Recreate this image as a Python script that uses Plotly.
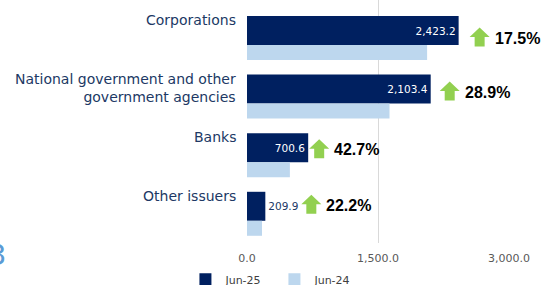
import plotly.graph_objects as go

categories = ["Corporations", "National government and other<br>government agencies", "Banks", "Other issuers"]
jun25 = [2423.2, 2103.4, 700.6, 209.9]
jun24 = [2062.3, 1631.8, 491.0, 171.8]
growth = ["17.5%", "28.9%", "42.7%", "22.2%"]
series_names = ["Jun-25", "Jun-24"]
tick_vals = [0, 1500, 3000]

NAVY = "#002060"
LIGHT = "#BDD7EE"
LABEL = "#203864"
GREEN = "#92D050"
FONT = "DejaVu Sans"

# layout-only pixel tweaks (per category)
arrow_dx = [21, 19, 11, 46]
arrow_dy = [6.5, 2, 1, -2]   # positive = down

pos = list(range(len(categories)))
DARK_W = 0.495
LIGHT_W = 0.256

fig = go.Figure()
fig.add_trace(go.Bar(
    y=pos, x=jun25, orientation="h", name=series_names[0],
    marker=dict(color=NAVY, line=dict(width=0)), offset=0, width=DARK_W,
    texttemplate="%{x:,.1f}", textposition="auto", insidetextanchor="end",
    insidetextfont=dict(color="white", size=10.5, family=FONT),
    outsidetextfont=dict(color=LABEL, size=10.5, family=FONT),
    cliponaxis=False,
))
fig.add_trace(go.Bar(
    y=pos, x=jun24, orientation="h", name=series_names[1],
    marker=dict(color=LIGHT, line=dict(width=0)), offset=DARK_W, width=LIGHT_W,
    hoverinfo="x",
))

annotations = []
shapes = []
for i, cat in enumerate(categories):
    annotations.append(dict(
        xref="paper", x=0, xshift=-9, xanchor="right", align="right",
        yref="y", y=pos[i], yanchor="top", yshift=6,
        text=cat, showarrow=False,
        font=dict(family=FONT, size=14, color=LABEL),
    ))
    ycen = pos[i] + DARK_W / 2
    dx = arrow_dx[i]
    dy = -arrow_dy[i]
    pts = [(0, 9.5), (10, 0), (5, 0), (5, -9.5), (-5, -9.5), (-5, 0), (-10, 0)]
    path = "M " + " L ".join(f"{px + dx},{py + dy}" for px, py in pts) + " Z"
    shapes.append(dict(
        type="path", xref="x", yref="y", xsizemode="pixel", ysizemode="pixel",
        xanchor=jun25[i], yanchor=ycen, path=path,
        fillcolor=GREEN, line=dict(width=0), layer="above",
    ))
    annotations.append(dict(
        xref="x", x=jun25[i], xshift=dx + 13, xanchor="left",
        yref="y", y=ycen, yanchor="middle", yshift=-(arrow_dy[i] + 1),
        text=f"<b>{growth[i]}</b>", showarrow=False,
        font=dict(family="Liberation Sans", size=16, color="black"),
    ))

annotations.append(dict(
    xref="paper", x=-0.922, xshift=3, xanchor="right", yref="paper", y=-0.049, yanchor="middle",
    text="3", showarrow=False, font=dict(family=FONT, size=29, color="#5B9BD5"),
))

fig.update_layout(
    width=541, height=285,
    margin=dict(l=246.5, r=31.5, t=0, b=42, autoexpand=False),
    paper_bgcolor="white", plot_bgcolor="white",
    barmode="overlay",
    showlegend=True,
    legend=dict(orientation="h", x=-0.235, y=-0.09, xanchor="left", yanchor="top",
                font=dict(family=FONT, size=11, color="#404040"), entrywidth=44,
                traceorder="normal"),
    xaxis=dict(range=[0, 3000], tickvals=tick_vals, tickformat=",.1f", automargin=False,
               ticklabelstandoff=7,
               showgrid=True, gridcolor="#D9D9D9", gridwidth=1, zeroline=False,
               showline=False, ticks="", tickfont=dict(family=FONT, size=11, color="#595959")),
    yaxis=dict(range=[3.874, -0.273], showticklabels=False, showgrid=False, automargin=False,
               zeroline=False, showline=False),
    annotations=annotations,
    shapes=shapes,
    uniformtext=dict(mode=False),
)

fig.write_html("out.html", config={"displayModeBar": False},
               post_script="document.body.style.margin='0';document.body.style.overflow='hidden';")
